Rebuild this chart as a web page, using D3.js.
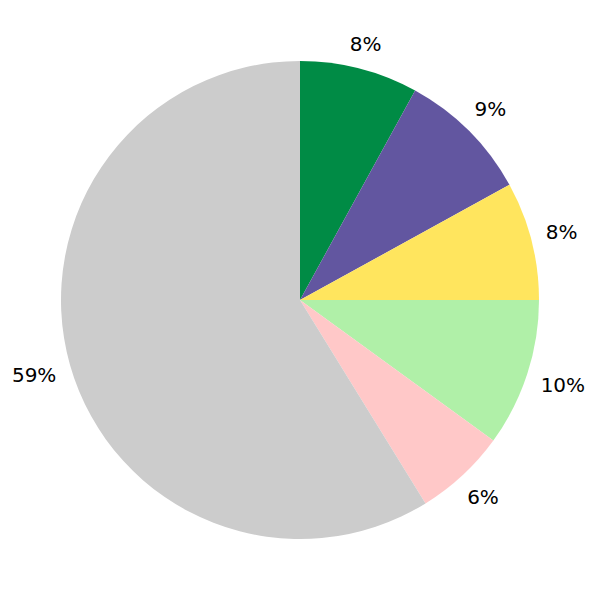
<!DOCTYPE html>
<html><head><meta charset="utf-8">
<script src="https://cdn.jsdelivr.net/npm/d3@7"></script>
<style>body{margin:0;background:#fff}</style>
</head><body>
<svg id="c" width="600" height="600"></svg>
<script>
const categories = ["A","B","C","D","E","F"];
const values = [8, 9, 8, 10, 6.2, 58.8];
const labels = ["8%","9%","8%","10%","6%","59%"];
const colors = ["#008b45","#6256a0","#ffe55e","#b0f0a8","#ffc8c8","#cccccc"];

const svg = d3.select("#c");
const cx = 300, cy = 300, r = 239;
const fs = 20;
const g = svg.append("g").attr("transform", `translate(${cx},${cy})`);
const pie = d3.pie().value(d => d.v).sort(null);
const data = categories.map((c,i)=>({c, v: values[i], l: labels[i], col: colors[i]}));
const arcs = pie(data);
const arc = d3.arc().innerRadius(0).outerRadius(r);
g.selectAll("path").data(arcs).join("path")
  .attr("d", arc).attr("fill", d => d.data.col);
const texts = g.selectAll("text").data(arcs).join("text")
  .attr("text-anchor", "middle")
  .attr("dominant-baseline", "central")
  .attr("font-family", "DejaVu Sans")
  .attr("font-size", fs)
  .attr("fill", "#000")
  .text(d => d.data.l);
texts.each(function(d){
  const a = (d.startAngle + d.endAngle) / 2;
  const s = Math.sin(a), c = Math.cos(a);
  const w = this.getBBox().width;
  const h = fs * 0.73;
  const R = r + 14 + (w/2) * Math.abs(s) + (h/2) * Math.abs(c);
  d3.select(this).attr("x", s * R).attr("y", -c * R - 0.5);
});
</script>
</body></html>
